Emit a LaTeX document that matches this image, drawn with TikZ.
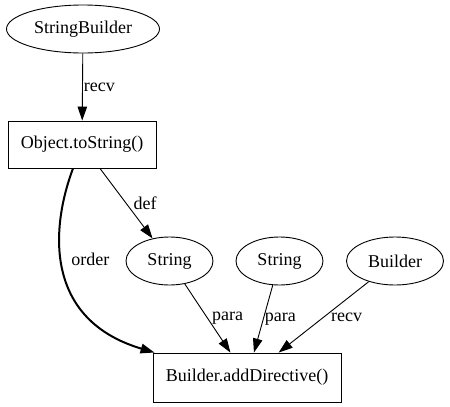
\documentclass[tikz,border=0pt]{standalone}
\usepackage{fontspec}
\setmainfont{Liberation Serif}
\usepackage{tikz}
\usetikzlibrary{shapes.geometric}
\usetikzlibrary{arrows.meta}
\tikzset{
	val/.style={ellipse, draw, line width=0.9pt, inner sep=0pt, minimum height=48pt},
	call/.style={rectangle, draw, line width=0.9pt, inner sep=0pt},
	flow/.style={line width=0.9pt, -{Triangle[length=14pt, width=9.5pt]}},
	lab/.style={inner sep=0pt}
}

\begin{document}
\begin{tikzpicture}[x=1pt, y=-1pt, font=\fontsize{18}{22}\selectfont]
\useasboundingbox (0,0) rectangle (450,407);

\node[val, minimum width=153pt] (sb) at (83,29) {StringBuilder};
\node[call, minimum width=148pt, minimum height=47pt] (ts) at (82,144.5) {Object.toString()};
\node[val, minimum width=87pt] (s1) at (169.5,261) {String};
\node[val, minimum width=87pt] (s2) at (279.5,261) {String};
\node[val, minimum width=97pt] (b) at (395,261) {Builder};
\node[call, minimum width=188pt, minimum height=49pt] (ad) at (247,377.5) {Builder.addDirective()};

\draw[flow] (sb) -- (ts) node[lab, midway, right=1pt] {recv};
\draw[flow] (ts) -- (s1) node[lab, midway, right=7pt] {def};
\draw[flow, line width=2pt] ([xshift=-9pt]ts.south) .. controls (50,230) and (45,320) .. ([xshift=2pt]ad.north west)
	node[lab, pos=.44, right=9pt] {order};
\draw[flow] (s1) -- (ad) node[lab, midway, right=4pt] {para};
\draw[flow] (s2) -- (ad) node[lab, midway, right=1pt] {para};
\draw[flow] (b) -- (ad) node[lab, midway, right=7pt] {recv};
\end{tikzpicture}
\end{document}
